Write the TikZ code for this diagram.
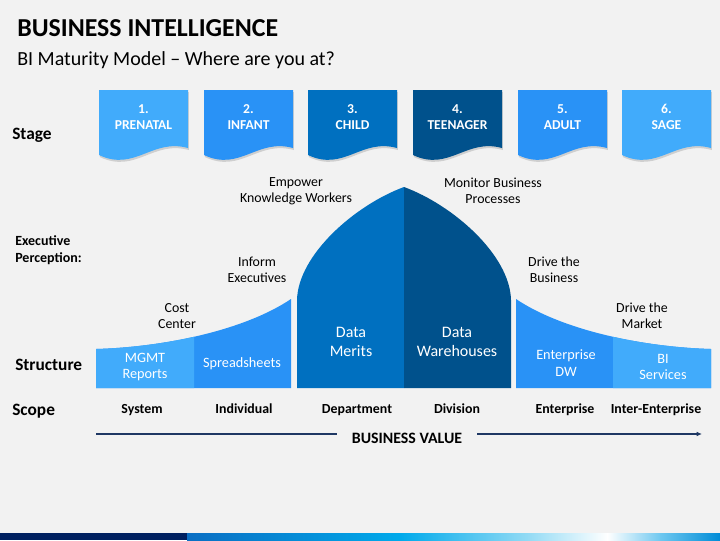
\documentclass[tikz,border=0pt]{standalone}
\usepackage{fontspec}
\setmainfont{Carlito}
\usetikzlibrary{shadows,arrows.meta}
\definecolor{bg}{HTML}{F2F2F2}
\definecolor{cA}{RGB}{65,171,251}
\definecolor{cB}{RGB}{41,146,246}
\definecolor{cC}{RGB}{0,112,192}
\definecolor{cD}{RGB}{0,81,140}
\definecolor{navy}{RGB}{31,56,100}
\definecolor{bardark}{RGB}{0,32,96}
\newcommand\stagebanner[5]{%
  \path[fill=#2, drop shadow={shadow xshift=0.6pt, shadow yshift=-1.5pt, opacity=0.3}]
    (#1,90) -- (#1+89,90) -- (#1+89,148)
    .. controls (#1+53,138) and (#1+36,172) .. (#1,155) -- cycle;
  \node[bannertext] (#5) at (#1+44.5,117) {#3.\\#4};
}
\begin{document}
\begin{tikzpicture}[x=0.75pt,y=-0.75pt,
  bannertext/.style={align=center, text=white, font=\fontsize{10.2}{12.2}\selectfont\bfseries, inner sep=0pt},
  rowlabel/.style={anchor=base west, font=\fontsize{13}{15}\selectfont\bfseries, inner sep=0pt},
  perception/.style={align=center, font=\fontsize{10.4}{12.3}\selectfont, inner sep=0pt},
  inlabel/.style={align=center, text=white, font=\fontsize{10.7}{12.5}\selectfont, inner sep=0pt},
  datalabel/.style={align=center, text=white, font=\fontsize{12}{14.5}\selectfont, inner sep=0pt},
  scopelabel/.style={anchor=base, font=\fontsize{10.4}{12}\selectfont\bfseries, inner sep=0pt},
]
\useasboundingbox[fill=bg] (0,0) rectangle (720,540);

% title
\node[anchor=base west, inner sep=0pt, font=\fontsize{19.4}{22}\selectfont\bfseries] (title) at (17,36) {BUSINESS INTELLIGENCE};
\node[anchor=base west, inner sep=0pt, font=\fontsize{15}{18}\selectfont] (subtitle) at (17,65) {BI Maturity Model -- Where are you at?};

% stage banners
\stagebanner{99}{cA}{1}{PRENATAL}{s1}
\stagebanner{204}{cB}{2}{INFANT}{s2}
\stagebanner{308}{cC}{3}{CHILD}{s3}
\stagebanner{413}{cD}{4}{TEENAGER}{s4}
\stagebanner{518}{cB}{5}{ADULT}{s5}
\stagebanner{622}{cA}{6}{SAGE}{s6}

% row labels
\node[rowlabel] (stage) at (12,139) {Stage};
\node[anchor=base west, inner sep=0pt, align=left, font=\fontsize{10.5}{12.7}\selectfont\bfseries] (exec) at (15,262) {Executive\\Perception:};
\node[rowlabel] (structure) at (15,370) {Structure};
\node[rowlabel] (scope) at (12,415) {Scope};

% left sweep
\fill[cB] (96,388) -- (96,349) .. controls (165,347) and (245,330) .. (291,299) -- (291,388) -- cycle;
\begin{scope}
  \clip (90,280) rectangle (194,395);
  \fill[cA] (96,388) -- (96,349) .. controls (165,347) and (245,330) .. (291,299) -- (291,388) -- cycle;
\end{scope}

% right sweep
\fill[cB] (711,388) -- (711,349) .. controls (642,347) and (562,330) .. (516,299) -- (516,388) -- cycle;
\begin{scope}
  \clip (613,280) rectangle (720,395);
  \fill[cA] (711,388) -- (711,349) .. controls (642,347) and (562,330) .. (516,299) -- (516,388) -- cycle;
\end{scope}

% central arch
\fill[cC] (297,388) -- (297,300) .. controls (298,255) and (355,205) .. (404,187) -- (404,388) -- cycle;
\fill[cD] (511,388) -- (511,300) .. controls (510,255) and (453,205) .. (404,187) -- (404,388) -- cycle;

% inner labels
\node[inlabel] (mgmt) at (145,367) {MGMT\\Reports};
\node[inlabel] (spread) at (242,364) {Spreadsheets};
\node[datalabel] (merits) at (351,342) {Data\\Merits};
\node[datalabel] (wareh) at (457,342) {Data\\Warehouses};
\node[inlabel] (edw) at (566,363) {Enterprise\\DW};
\node[inlabel] (bis) at (663,367) {BI\\Services};

% perception labels
\node[perception] (cost) at (177,316) {Cost\\Center};
\node[perception] (inform) at (257,270) {Inform\\Executives};
\node[perception] (empower) at (296,191) {Empower\\Knowledge Workers};
\node[perception] (monitor) at (493,191) {Monitor Business\\Processes};
\node[perception] (dbus) at (554,270) {Drive the\\Business};
\node[perception] (dmkt) at (642,316) {Drive the\\Market};

% scope labels
\node[scopelabel] (sys) at (142,413) {System};
\node[scopelabel] (ind) at (244,413) {Individual};
\node[scopelabel] (dep) at (357,413) {Department};
\node[scopelabel] (div) at (457,413) {Division};
\node[scopelabel] (ent) at (565,413) {Enterprise};
\node[scopelabel] (inter) at (656,413) {Inter-Enterprise};

% business value arrow
\node[anchor=base, inner xsep=11pt, inner ysep=0pt, font=\fontsize{11.9}{13}\selectfont\bfseries] (bv) at (407,443) {BUSINESS VALUE};
\coordinate (bvstart) at (96,434);
\coordinate (bvend) at (702,434);
\draw[navy, line width=0.9pt] (bvstart) -- (bv.west |- bvstart);
\draw[navy, line width=0.9pt, -{Latex[length=4pt,width=3.5pt]}] (bv.east |- bvend) -- (bvend);

% bottom bar
\fill[bardark] (0,533) rectangle (188,540);
\shade[left color={rgb,255:red,10;green,110;blue,195}, right color={rgb,255:red,0;green,170;blue,235}] (187,533) rectangle (401,540);
\shade[left color={rgb,255:red,0;green,170;blue,235}, right color={rgb,255:red,150;green,220;blue,245}] (400,533) rectangle (531,540);
\shade[left color={rgb,255:red,150;green,220;blue,245}, right color=white] (530,533) rectangle (608,540);
\shade[left color=white, right color={rgb,255:red,110;green,200;blue,240}] (607,533) rectangle (661,540);
\shade[left color={rgb,255:red,110;green,200;blue,240}, right color={rgb,255:red,0;green,140;blue,215}] (660,533) rectangle (720,540);
\end{tikzpicture}
\end{document}
